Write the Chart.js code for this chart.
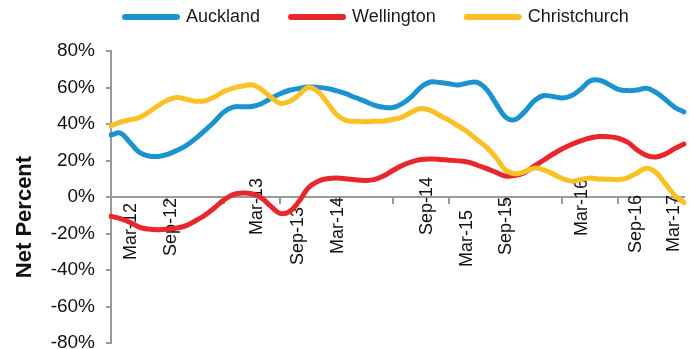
<!DOCTYPE html>
<html>
<head>
<meta charset="utf-8">
<script src="https://cdn.jsdelivr.net/npm/chart.js@4.4.1/dist/chart.umd.min.js"></script>
<style>
  html, body { margin: 0; padding: 0; background: #ffffff; overflow: hidden; }
  #wrap { width: 690px; height: 349px; }
</style>
</head>
<body>
<div id="wrap"><canvas id="c" width="690" height="349"></canvas></div>
<script>
// Monthly survey readings, Jan-12 to Feb-17
const months = [
  'Jan-12','Feb-12','Mar-12','Apr-12','May-12','Jun-12','Jul-12','Aug-12','Sep-12','Oct-12','Nov-12','Dec-12',
  'Jan-13','Feb-13','Mar-13','Apr-13','May-13','Jun-13','Jul-13','Aug-13','Sep-13','Oct-13','Nov-13','Dec-13',
  'Jan-14','Feb-14','Mar-14','Apr-14','May-14','Jun-14','Jul-14','Aug-14','Sep-14','Oct-14','Nov-14','Dec-14',
  'Jan-15','Feb-15','Mar-15','Apr-15','May-15','Jun-15','Jul-15','Aug-15','Sep-15','Oct-15','Nov-15','Dec-15',
  'Jan-16','Feb-16','Mar-16','Apr-16','May-16','Jun-16','Jul-16','Aug-16','Sep-16','Oct-16','Nov-16','Dec-16',
  'Jan-17','Feb-17'
];

const auckland = [
  34, 35, 30, 24.5, 22.5, 22.2, 23.3, 25.5, 28.2, 32, 36.5, 41.2,
  46.5, 49.2, 49.5, 49.6, 51.1, 54, 56.6, 58.5, 59.5, 60.3, 60.1, 59.5,
  58.2, 56.6, 54.5, 52.5, 50.4, 49.2, 49, 51.2, 55, 60.2, 63, 62.7,
  62, 61.4, 62.5, 62.8, 58.8, 51.1, 43.8, 42.4, 46.5, 52.4, 55.5, 55.1,
  54.3, 55.5, 59, 63.5, 64, 61.7, 59, 58.3, 58.6, 59.6, 57.3, 53.5,
  49.2, 46.6
];

const wellington = [
  -10.6, -11.8, -13.8, -16.5, -17.6, -17.9, -17.7, -17, -15.7, -13, -10, -6,
  -1.6, 1.3, 2.2, 1.8, -0.5, -5, -9, -8, -2.5, 5, 8.5, 10,
  10.4, 10, 9.4, 9.1, 9.5, 11.5, 14.5, 17.3, 19.3, 20.5, 20.8, 20.6,
  20.2, 19.8, 19.1, 17.4, 15.5, 13.5, 11.5, 11.8, 13.3, 16.8, 20, 23.3,
  26.3, 28.8, 30.8, 32.3, 33.1, 33, 32.2, 30, 25.8, 22.8, 21.9, 23.5,
  26.5, 29
];

const christchurch = [
  39, 41, 42.3, 43.5, 46.5, 50, 53, 54.5, 53.6, 52.5, 52.7, 54.8,
  57.8, 59.7, 60.8, 61.5, 59, 54.8, 51.4, 52.3, 56, 60, 57.9, 51.9,
  45.2, 42, 41.5, 41.3, 41.5, 41.7, 42.5, 43.8, 46.5, 48.5, 47.5, 44.7,
  42, 38.8, 35.5, 31.2, 27.2, 21.5, 14.8, 12.8, 13.8, 15.8, 15, 12.8,
  10.2, 8.7, 9.5, 10.4, 9.8, 9.7, 9.6, 10.5, 13.2, 15.7, 13.5, 7.3,
  1, -3
];

const seriesNames = ['Auckland', 'Wellington', 'Christchurch'];
const seriesColors = ['#1c93d1', '#e8262b', '#f9c124'];

// Date captions under the zero line
const dateLabels = ['Mar-12','Sep-12','Mar-13','Sep-13','Mar-14','Sep-14','Mar-15','Sep-15','Mar-16','Sep-16','Mar-17'];
// where each caption sits along the month axis, and how far its upper end drops below the zero line
const dateLabelSlot = [2.1, 6.4, 15.5, 19.9, 24.2, 33.6, 37.9, 42.1, 50.1, 55.9, 59.9];
const dateLabelDrop = [6, 1, -19, 10, 0, -20, 13, 0, -18, -2, -2];

const FONT = '"Liberation Sans", Arial, Helvetica, sans-serif';
const AXIS_GREY = '#9a9a9a';

// Date captions, drawn beneath the lines
const dateCaptions = {
  id: 'dateCaptions',
  beforeDatasetsDraw(chart) {
    const { ctx, scales: { x, y } } = chart;
    const zero = y.getPixelForValue(0);
    ctx.save();
    ctx.font = '18px ' + FONT;
    ctx.fillStyle = '#111111';
    ctx.textAlign = 'right';
    ctx.textBaseline = 'middle';
    dateLabels.forEach((txt, i) => {
      ctx.save();
      ctx.translate(x.getPixelForValue(dateLabelSlot[i]), zero + dateLabelDrop[i]);
      ctx.rotate(-Math.PI / 2);
      ctx.fillText(txt, 0, 0);
      ctx.restore();
    });
    ctx.restore();
  }
};

// Series key across the top and the value-axis caption
const keyAndCaption = {
  id: 'keyAndCaption',
  afterDraw(chart) {
    const ctx = chart.ctx;
    ctx.save();
    ctx.font = '18px ' + FONT;
    ctx.textBaseline = 'middle';
    let kx = 122;
    const ky = 17;
    chart.data.datasets.forEach(ds => {
      ctx.strokeStyle = ds.borderColor;
      ctx.lineWidth = 6;
      ctx.lineCap = 'round';
      ctx.beginPath();
      ctx.moveTo(kx + 3, ky);
      ctx.lineTo(kx + 55, ky);
      ctx.stroke();
      kx += 64;
      ctx.fillStyle = '#1a1a1a';
      ctx.textAlign = 'left';
      ctx.fillText(ds.label, kx, ky);
      kx += ctx.measureText(ds.label).width + 28;
    });

    ctx.font = 'bold 22px ' + FONT;
    ctx.fillStyle = '#111111';
    ctx.textAlign = 'center';
    ctx.translate(25, 217);
    ctx.rotate(-Math.PI / 2);
    ctx.fillText('Net Percent', 0, 0);
    ctx.restore();
  }
};

const seriesData = [auckland, wellington, christchurch];
const drawOrder = [2, 1, 0];

new Chart(document.getElementById('c'), {
  type: 'line',
  data: {
    labels: months,
    datasets: seriesNames.map((name, i) => ({
      label: name,
      data: seriesData[i],
      borderColor: seriesColors[i],
      backgroundColor: seriesColors[i],
      borderWidth: 5,
      borderCapStyle: 'round',
      borderJoinStyle: 'round',
      pointRadius: 0,
      tension: 0.4,
      fill: false,
      order: drawOrder[i]
    }))
  },
  options: {
    responsive: false,
    animation: false,
    devicePixelRatio: 1,
    layout: { padding: { top: 51, right: 6, bottom: 6, left: 0 } },
    plugins: {
      legend: { display: false },
      tooltip: { enabled: false }
    },
    scales: {
      x: {
        type: 'category',
        position: { y: 0 },
        offset: false,
        border: { display: true, color: AXIS_GREY, width: 2 },
        grid: {
          drawOnChartArea: false,
          drawTicks: true,
          tickLength: 6,
          lineWidth: 2,
          color: c => (c.index % 6 === 0 ? AXIS_GREY : 'rgba(0,0,0,0)')
        },
        ticks: { display: false }
      },
      y: {
        min: -80,
        max: 80,
        border: { display: true, color: AXIS_GREY, width: 2 },
        grid: { drawOnChartArea: false, drawTicks: true, tickLength: 5, lineWidth: 2, color: AXIS_GREY },
        ticks: {
          stepSize: 20,
          padding: 11,
          color: '#111111',
          font: { family: FONT, size: 19 },
          callback: v => v + '%'
        },
        afterFit(s) {
          s.width = 111;
          s.paddingTop = 0;
          s.paddingBottom = 0;
        }
      }
    }
  },
  plugins: [dateCaptions, keyAndCaption]
});
</script>
</body>
</html>
